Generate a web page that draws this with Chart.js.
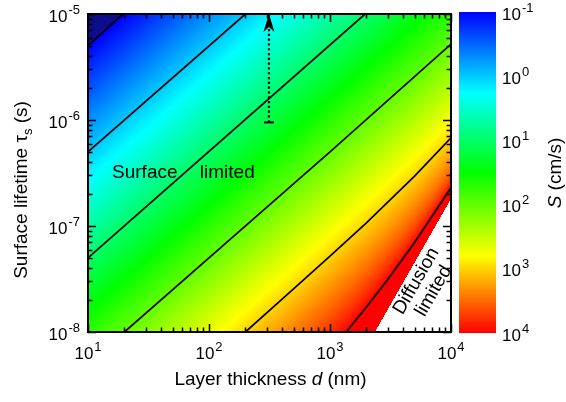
<!DOCTYPE html>
<html>
<head>
<meta charset="utf-8">
<script src="https://cdn.jsdelivr.net/npm/chart.js@4.4.0/dist/chart.umd.min.js"></script>
<style>
  html, body { margin: 0; padding: 0; background: #fff; }
  #wrap { width: 566px; height: 402px; }
</style>
</head>
<body>
<div id="wrap"><canvas id="c"></canvas></div>
<script>
// ---------------------------------------------------------------------------
// Data
// ---------------------------------------------------------------------------
const dRange = [10, 1e4];          // layer thickness d (nm)
const tauRange = [1e-8, 1e-5];     // surface lifetime tau_s (s)
const sRange = [0.1, 1e4];         // colour bar S (cm/s)
const diffCoeff = 0.56;            // cm^2/s, from the edge of the white "diffusion limited" wedge
const xExps = [1, 2, 3, 4];
const yExps = [-8, -7, -6, -5];
const sExps = [-1, 0, 1, 2, 3, 4];

// contour lines S = 0.1 ... 1e4 cm/s, points [d (nm), tau (s)]
const contour01 = [[10, 5e-6], [19.5, 1e-5]];
const contour1 = [[10, 5e-7], [200, 1e-5]];
const contour10 = [[10, 5e-8], [1950, 1e-5]];
const contour100 = [[20, 1e-8], [1000, 5.0e-7], [10000, 5.2e-6]];
const contour1000 = [[200, 1.0e-8], [500, 2.55e-8], [1000, 5.2e-8], [2000, 1.07e-7], [5000, 2.95e-7], [10000, 6.8e-7]];
const contour10000 = [[1360, 1e-8], [2000, 1.72e-8], [3000, 3.13e-8], [5000, 7.0e-8], [7000, 1.24e-7], [10000, 2.31e-7]];
const arrowPts = [[313, 9.5e-7], [313, 1e-5]];

// colour map, position 0 = blue end (S = 0.1), 1 = red end (S = 1e4)
const cmapPos = [0, 0.253, 0.5, 0.76, 1];
const cmapRGB = [[0, 0, 255], [0, 255, 255], [0, 255, 0], [255, 255, 0], [255, 0, 0]];
const underRGB = [12, 12, 140];
const overRGB = [255, 0, 0];

const FONT = "'Liberation Sans', Arial, Helvetica, sans-serif";
const TXT = '19px ' + FONT;

// ---------------------------------------------------------------------------
// Helpers
// ---------------------------------------------------------------------------
function surfaceVelocity(dnm, tau) {
    const dcm = dnm * 1e-7;
    const tDiff = dcm * dcm / (Math.PI * Math.PI * diffCoeff);
    if (tau <= tDiff) return null; // diffusion limited
    return dcm / (2 * (tau - tDiff));
}

function colourAt(t) {
    if (t < 0) return underRGB;
    if (t > 1) return overRGB;
    for (let i = 1; i < cmapPos.length; i++) {
        if (t <= cmapPos[i]) {
            const f = (t - cmapPos[i - 1]) / (cmapPos[i] - cmapPos[i - 1]);
            const a = cmapRGB[i - 1], b = cmapRGB[i];
            return [a[0] + (b[0] - a[0]) * f, a[1] + (b[1] - a[1]) * f, a[2] + (b[2] - a[2]) * f];
        }
    }
    return overRGB;
}

function colourForS(s) {
    if (s === null) return [255, 255, 255];
    const lo = Math.log10(sRange[0]), hi = Math.log10(sRange[1]);
    return colourAt((Math.log10(s) - lo) / (hi - lo));
}

// "10" with a superscript exponent; align = 'left' | 'center' | 'right', y = middle of "10"
function drawPow(ctx, exp, x, y, align) {
    const baseFont = '17px ' + FONT, supFont = '13px ' + FONT;
    const sup = String(exp);
    ctx.font = baseFont;
    const wb = ctx.measureText('10').width;
    ctx.font = supFont;
    const ws = ctx.measureText(sup).width;
    const w = wb + ws + 1;
    let x0 = x;
    if (align === 'center') x0 = x - w / 2;
    if (align === 'right') x0 = x - w;
    ctx.fillStyle = '#000';
    ctx.textAlign = 'left';
    ctx.textBaseline = 'middle';
    ctx.font = baseFont;
    ctx.fillText('10', x0, y);
    ctx.font = supFont;
    ctx.fillText(sup, x0 + wb + 1, y - 7);
}

// draw a run of [text, font, dy] pieces centred on (0,0) of the current transform
function drawRuns(ctx, runs) {
    let total = 0;
    runs.forEach(r => { ctx.font = r[1]; r.w = ctx.measureText(r[0]).width; total += r.w; });
    let x = -total / 2;
    ctx.fillStyle = '#000';
    ctx.textAlign = 'left';
    ctx.textBaseline = 'middle';
    runs.forEach(r => { ctx.font = r[1]; ctx.fillText(r[0], x, r[2] || 0); x += r.w; });
}

const toXY = arr => arr.map(p => ({ x: p[0], y: p[1] }));

// ---------------------------------------------------------------------------
// Plugins
// ---------------------------------------------------------------------------
const heatmapPlugin = {
    id: 'heatmap',
    beforeDatasetsDraw(chart) {
        const { ctx, chartArea: a, scales: { x, y } } = chart;
        const w = Math.round(a.right - a.left), h = Math.round(a.bottom - a.top);
        const off = document.createElement('canvas');
        off.width = w; off.height = h;
        const octx = off.getContext('2d');
        const img = octx.createImageData(w, h);
        const dVals = [];
        for (let i = 0; i < w; i++) dVals.push(x.getValueForPixel(a.left + i + 0.5));
        for (let j = 0; j < h; j++) {
            const tau = y.getValueForPixel(a.top + j + 0.5);
            for (let i = 0; i < w; i++) {
                const c = colourForS(surfaceVelocity(dVals[i], tau));
                const k = (j * w + i) * 4;
                img.data[k] = c[0]; img.data[k + 1] = c[1]; img.data[k + 2] = c[2]; img.data[k + 3] = 255;
            }
        }
        octx.putImageData(img, 0, 0);
        ctx.drawImage(off, a.left, a.top);
    }
};

const decorPlugin = {
    id: 'decor',
    afterDatasetsDraw(chart) {
        const { ctx, chartArea: a, scales: { x, y } } = chart;
        ctx.save();

        // arrow cap and head
        const meta = chart.getDatasetMeta(6).data;
        const p0 = meta[0], p1 = meta[1];
        ctx.strokeStyle = '#000';
        ctx.fillStyle = '#000';
        ctx.lineWidth = 2;
        ctx.beginPath();
        ctx.moveTo(p0.x - 5, p0.y); ctx.lineTo(p0.x + 5, p0.y);
        ctx.stroke();
        ctx.beginPath();
        ctx.moveTo(p1.x, p1.y);
        ctx.lineTo(p1.x - 5.5, p1.y + 18);
        ctx.lineTo(p1.x, p1.y + 13);
        ctx.lineTo(p1.x + 5.5, p1.y + 18);
        ctx.closePath();
        ctx.fill();

        // inward ticks on all four sides
        ctx.lineWidth = 1.5;
        ctx.beginPath();
        for (let e = 1; e <= 4; e++) {
            for (let m = 1; m <= 9; m++) {
                const v = m * Math.pow(10, e);
                if (v > dRange[1]) break;
                const px = Math.round(x.getPixelForValue(v)) + 0.5;
                const len = m === 1 ? 8 : 4.5;
                ctx.moveTo(px, a.bottom); ctx.lineTo(px, a.bottom - len);
                ctx.moveTo(px, a.top); ctx.lineTo(px, a.top + len);
            }
        }
        for (let e = -8; e <= -5; e++) {
            for (let m = 1; m <= 9; m++) {
                const v = m * Math.pow(10, e);
                if (v > tauRange[1] * 1.0001) break;
                const py = Math.round(y.getPixelForValue(v)) + 0.5;
                const len = m === 1 ? 8 : 4.5;
                ctx.moveTo(a.left, py); ctx.lineTo(a.left + len, py);
                ctx.moveTo(a.right, py); ctx.lineTo(a.right - len, py);
            }
        }
        ctx.stroke();

        // frame
        ctx.lineWidth = 2;
        ctx.strokeRect(a.left, a.top, a.right - a.left, a.bottom - a.top);

        // text inside the plot
        ctx.fillStyle = '#000';
        ctx.font = TXT;
        ctx.textAlign = 'left';
        ctx.textBaseline = 'middle';
        const ty = y.getPixelForValue(3.2e-7);
        ctx.fillText('Surface', x.getPixelForValue(15.8), ty);
        ctx.fillText('limited', x.getPixelForValue(84), ty);

        ctx.save();
        ctx.translate(x.getPixelForValue(5760) + 3, y.getPixelForValue(2.77e-8) + 1);
        ctx.rotate(-60 * Math.PI / 180);
        ctx.textAlign = 'center';
        ctx.fillText('Diffusion', 0, -10);
        ctx.fillText('limited', 0, 10);
        ctx.restore();

        ctx.restore();
    },
    afterDraw(chart) {
        const { ctx, chartArea: a, scales: { x, y } } = chart;
        ctx.save();

        // axis tick labels
        xExps.forEach(e => drawPow(ctx, e, x.getPixelForValue(Math.pow(10, e)), a.bottom + 22, 'center'));
        yExps.forEach(e => drawPow(ctx, e, a.left - 8, y.getPixelForValue(Math.pow(10, e)) + 3, 'right'));

        // colour bar
        const cbL = a.right + 8, cbR = a.right + 45, cbT = a.top - 2, cbB = a.bottom + 1;
        for (let j = cbT; j < cbB; j++) {
            const t = (j + 0.5 - cbT) / (cbB - cbT);
            const c = colourAt(t);
            ctx.fillStyle = 'rgb(' + c.map(Math.round).join(',') + ')';
            ctx.fillRect(cbL, j, cbR - cbL, 1);
        }
        sExps.forEach((e, i) => {
            const py = cbT + (cbB - cbT) * i / (sExps.length - 1);
            drawPow(ctx, e, cbR + 6, py + 3, 'left');
        });

        // axis titles
        ctx.save();
        ctx.translate((a.left + a.right) / 2 + 1, a.bottom + 48);
        drawRuns(ctx, [['Layer thickness ', TXT], ['d', 'italic ' + TXT], [' (nm)', TXT]]);
        ctx.restore();

        ctx.save();
        ctx.translate(22, 190);
        ctx.rotate(-Math.PI / 2);
        drawRuns(ctx, [['Surface lifetime ', TXT], ['\u03c4', TXT],
            ['s', '13px ' + FONT, 6], [' (s)', TXT]]);
        ctx.restore();

        ctx.save();
        ctx.translate(556, 173);
        ctx.rotate(-Math.PI / 2);
        drawRuns(ctx, [['S', 'italic ' + TXT], [' (cm/s)', TXT]]);
        ctx.restore();

        ctx.restore();
    }
};

// ---------------------------------------------------------------------------
// Chart
// ---------------------------------------------------------------------------
const lineSet = pts => ({
    data: toXY(pts),
    showLine: true,
    borderColor: '#000',
    borderWidth: 1.7,
    pointRadius: 0,
    fill: false
});

new Chart(document.getElementById('c'), {
    type: 'scatter',
    data: {
        datasets: [
            lineSet(contour01),
            lineSet(contour1),
            lineSet(contour10),
            lineSet(contour100),
            lineSet(contour1000),
            lineSet(contour10000),
            Object.assign(lineSet(arrowPts), { borderWidth: 2.2, borderDash: [2.2, 2.6], clip: false })
        ]
    },
    options: {
        responsive: true,
        maintainAspectRatio: false,
        animation: false,
        layout: { padding: { left: 0, right: 115, top: 14, bottom: 0 } },
        plugins: {
            legend: { display: false },
            tooltip: { enabled: false }
        },
        scales: {
            x: {
                type: 'logarithmic',
                min: dRange[0],
                max: dRange[1],
                grid: { display: false },
                border: { display: false },
                ticks: { display: false },
                afterFit: s => { s.height = 70; }
            },
            y: {
                type: 'logarithmic',
                min: tauRange[0],
                max: tauRange[1],
                grid: { display: false },
                border: { display: false },
                ticks: { display: false },
                afterFit: s => { s.width = 88; }
            }
        }
    },
    plugins: [heatmapPlugin, decorPlugin]
});
</script>
</body>
</html>
